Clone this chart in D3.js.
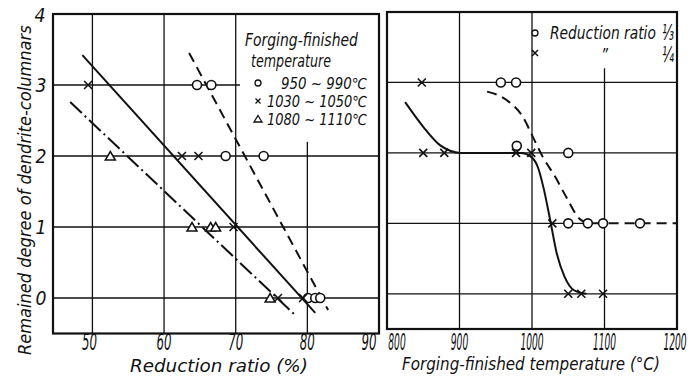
<!DOCTYPE html>
<html><head><meta charset="utf-8">
<script src="https://cdn.jsdelivr.net/npm/d3@7"></script>
<style>
html,body{margin:0;padding:0;background:#fff;}
svg{display:block;}
text{font-family:"DejaVu Sans Condensed","DejaVu Sans",sans-serif;font-style:italic;fill:#111;}
</style></head>
<body><svg id="c" width="695" height="376"></svg>
<script>
// ---------- data ----------
const leftXTicks = [50, 60, 70, 80, 90];
const rightXTicks = [800, 900, 1000, 1100, 1200];
const yTicks = [0, 1, 2, 3, 4];

// left panel: reduction ratio (%) vs remained degree
const leftCircles = [[64.6,3],[66.6,3],[68.6,2],[73.9,2],[80.1,0],[81.1,0],[81.8,0]];
const leftCrosses = [[49.4,3],[62.5,2],[64.8,2],[69.7,1],[75.9,0],[79.4,0]];
const leftTriangles = [[52.5,2],[63.9,1],[66.5,1],[67.2,1],[74.8,0]];
const leftSolidLine = [[48.6,3.42],[81.1,-0.21]];
const leftDashDotLine = [[46.9,2.76],[78.3,-0.24]];
const leftDashedLine = [[63.5,3.45],[82.9,-0.17]];
const leftLegendTitle = ["Forging-finished", "temperature"];
const leftLegendItems = ["950 ~ 990℃", "1030 ~ 1050℃", "1080 ~ 1110℃"];

// right panel: forging-finished temperature vs remained degree
const rightCircles = [[957,3],[978,3],[979,2.1],[1050,2],[1050,1],[1077,1],[1098,1],[1149,1]];
const rightCrosses = [[848,3],[850,2],[879,2],[978,2],[999,2],[1028,1],[1050,0],[1068,0],[1098,0]];
const rightSolidCurve = [[825,2.72],[850,2.37],[873,2.11],[887,2.03],[901,2.0],[985,2.0],[998,1.95],[1008,1.8],[1016,1.5],[1025,1.05],[1034,0.58],[1045,0.24],[1058,0.05],[1075,0]];
const rightDashedCurve = [[938,2.87],[965,2.75],[988,2.5],[1001,2.23],[1015,1.94],[1032,1.66],[1048,1.36],[1066,1.06],[1080,1.0],[1200,1.0]];
const rightLegendLabels = ["Reduction ratio", "\u201D"];
const rightLegendFractions = ["⅓", "¼"];

// ---------- drawing ----------
const svg = d3.select("#c");
const ink = "#111";

const xL = d3.scaleLinear().domain([44.5, 90]).range([53, 379]);
const yL = d3.scaleLinear().domain([-0.5, 4]).range([333.5, 14]);
const xR = d3.scaleLinear().domain([800, 1200]).range([387, 677]);
const yR = d3.scaleLinear().domain([-0.5, 4]).range([329, 12]);

function line(g, x1, y1, x2, y2, w, dash) {
  const l = g.append("line").attr("x1", x1).attr("y1", y1).attr("x2", x2).attr("y2", y2)
    .attr("stroke", ink).attr("stroke-width", w || 1.3);
  if (dash) l.attr("stroke-dasharray", dash);
  return l;
}
// condensed text: scaled horizontally to a given width
function ctext(g, str, x, y, size, width, anchor, rotate) {
  const t = g.append("text").attr("font-size", size).attr("text-anchor", anchor || "start").text(str);
  const w = t.node().getComputedTextLength() || width;
  const sx = width / w;
  t.attr("transform", `translate(${x},${y})` + (rotate ? ` rotate(${rotate})` : "") + ` scale(${sx},1)`);
  return t;
}

// ----- left panel -----
const gL = svg.append("g");
[50, 60, 70].forEach(v => line(gL, xL(v), yL(4), xL(v), yL(-0.5)));
line(gL, xL(80), yL(2.2), xL(80), yL(-0.5));
line(gL, xL(44.5), yL(3), xL(70.6), yL(3));
[0, 1, 2].forEach(v => line(gL, xL(44.5), yL(v), xL(90), yL(v)));
gL.append("rect").attr("x", xL(44.5)).attr("y", yL(4)).attr("width", xL(90) - xL(44.5))
  .attr("height", yL(-0.5) - yL(4)).attr("fill", "none").attr("stroke", ink).attr("stroke-width", 2.2);

const lgen = (xs, ys) => d3.line().x(d => xs(d[0])).y(d => ys(d[1]));
gL.append("path").attr("d", lgen(xL, yL)(leftSolidLine)).attr("fill", "none").attr("stroke", ink).attr("stroke-width", 2);
gL.append("path").attr("d", lgen(xL, yL)(leftDashDotLine)).attr("fill", "none").attr("stroke", ink).attr("stroke-width", 2)
  .attr("stroke-dasharray", "16,4,2,4");
gL.append("path").attr("d", lgen(xL, yL)(leftDashedLine)).attr("fill", "none").attr("stroke", ink).attr("stroke-width", 2)
  .attr("stroke-dasharray", "10,6");

function circles(g, data, xs, ys, r) {
  g.selectAll(null).data(data).enter().append("circle")
    .attr("cx", d => xs(d[0])).attr("cy", d => ys(d[1])).attr("r", r || 4.5)
    .attr("fill", "#fff").attr("stroke", ink).attr("stroke-width", 1.6);
}
function crosses(g, data, xs, ys, s) {
  s = s || 4;
  g.selectAll(null).data(data).enter().append("path")
    .attr("d", d => { const x = xs(d[0]), y = ys(d[1]);
      return `M${x-s},${y-s}L${x+s},${y+s}M${x-s},${y+s}L${x+s},${y-s}`; })
    .attr("stroke", ink).attr("stroke-width", 1.6).attr("fill", "none");
}
function triangles(g, data, xs, ys) {
  g.selectAll(null).data(data).enter().append("path")
    .attr("d", d => { const x = xs(d[0]), y = ys(d[1]);
      return `M${x},${y-4.5}L${x+5},${y+4}L${x-5},${y+4}Z`; })
    .attr("stroke", ink).attr("stroke-width", 1.5).attr("fill", "#fff");
}
circles(gL, leftCircles, xL, yL);
crosses(gL, leftCrosses, xL, yL);
triangles(gL, leftTriangles, xL, yL);

// left axis labels
yTicks.forEach(d => ctext(gL, String(d), d === 4 ? 40 : 41, d === 4 ? 22 : yL(d) + 7, 20, 11, "middle"));
leftXTicks.forEach(d => ctext(gL, String(d), xL(d) + (d === 90 ? -10 : (d === 50 ? -3 : 0)), 350, 23, 15, "middle"));
ctext(gL, "Reduction ratio (%)", 130, 372, 18, 178);
ctext(gL, "Remained degree of dendrite-columnars", 31, 355, 18, 330, "start", -90);

// left legend
ctext(gL, leftLegendTitle[0], 245, 46, 17, 113);
ctext(gL, leftLegendTitle[1], 251, 67, 17, 80);
const legY = [83, 101, 119];
const legX0 = [281, 267, 267];
leftLegendItems.forEach((t, i) => ctext(gL, t, legX0[i], legY[i] + 5.5, 15, 367 - legX0[i]));
gL.append("circle").attr("cx", 258).attr("cy", legY[0]).attr("r", 3).attr("fill", "#fff").attr("stroke", ink).attr("stroke-width", 1.3);
gL.append("path").attr("d", `M255.5,${legY[1]-2.5}L260.5,${legY[1]+2.5}M255.5,${legY[1]+2.5}L260.5,${legY[1]-2.5}`).attr("stroke", ink).attr("stroke-width", 1.3);
gL.append("path").attr("d", `M258,${legY[2]-3.5}L262,${legY[2]+3}L254,${legY[2]+3}Z`).attr("stroke", ink).attr("stroke-width", 1.3).attr("fill", "#fff");

// ----- right panel -----
const gR = svg.append("g");
[900, 1000].forEach(v => line(gR, xR(v), yR(4), xR(v), yR(-0.5)));
line(gR, xR(1100), yR(3.2), xR(1100), yR(-0.5));
[2, 3].forEach(v => line(gR, xR(800), yR(v), xR(1200), yR(v)));
line(gR, xR(800), yR(1), xR(1077), yR(1));
line(gR, xR(800), yR(0), xR(1200), yR(0));
gR.append("rect").attr("x", xR(800)).attr("y", yR(4)).attr("width", xR(1200) - xR(800))
  .attr("height", yR(-0.5) - yR(4)).attr("fill", "none").attr("stroke", ink).attr("stroke-width", 2.2);

const curve = (xs, ys) => d3.line().x(d => xs(d[0])).y(d => ys(d[1])).curve(d3.curveMonotoneX);
gR.append("path").attr("d", curve(xR, yR)(rightSolidCurve)).attr("fill", "none").attr("stroke", ink).attr("stroke-width", 2);
gR.append("path").attr("d", curve(xR, yR)(rightDashedCurve)).attr("fill", "none").attr("stroke", ink).attr("stroke-width", 2)
  .attr("stroke-dasharray", "10,6");
circles(gR, rightCircles, xR, yR);
crosses(gR, rightCrosses, xR, yR);

rightXTicks.forEach(d => ctext(gR, String(d), xR(d) + (d === 800 ? 10 : (d === 1200 ? -2 : 0)), 350, 23, String(d).length * 5.8, "middle"));
ctext(gR, "Forging-finished temperature (°C)", 402, 370, 18, 258);

// right legend
gR.append("circle").attr("cx", 535).attr("cy", 33).attr("r", 3).attr("fill", "#fff").attr("stroke", ink).attr("stroke-width", 1.3);
ctext(gR, rightLegendLabels[0], 550, 39, 18, 106);
gR.append("path").attr("d", "M532,50L538,56M532,56L538,50").attr("stroke", ink).attr("stroke-width", 1.5);
ctext(gR, rightLegendLabels[1], 601, 61, 18, 7);
ctext(gR, rightLegendFractions[0], 662, 40, 21, 12);
ctext(gR, rightLegendFractions[1], 662, 62, 21, 12);
</script></body></html>
